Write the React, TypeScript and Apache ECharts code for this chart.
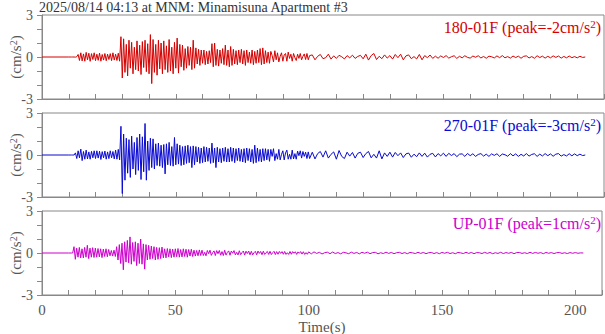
import React, { useEffect, useRef } from "react";
import * as echarts from "echarts";

const TITLE = "2025/08/14 04:13 at MNM: Minamisuna Apartment #3";
const CHANNELS = ["180-01F", "270-01F", "UP-01F"];
const PEAKS = ["-2", "-3", "1"];
const COLORS = ["#d40000", "#0a0ad0", "#cc00cc"];
const X_TICK_LABELS = [0, 50, 100, 150, 200];
const Y_TICK_LABELS = [-3, 0, 3];

// samples every 0.5 s from t=10 s to t=100 s
const EARLY_START = 10;
const EARLY_STEP = 0.5;
// samples every 1 s from t=101 s to t=203 s
const LATE_START = 101;
const LATE_STEP = 1;

const ns180Early = [
  0, 0, 0, 0, 0, -0.01, 0.02, 0.18, -0.25, 0.3,
  -0.28, 0.22, -0.3, 0.33, -0.2, 0.27, -0.31, 0.24, -0.18, 0.3,
  -0.26, 0.2, -0.24, 0.28, -0.3, 0.18, -0.22, 0.25, -0.27, 0.2,
  -0.18, 0.24, -0.26, 0.3, -0.22, 0.2, -0.25, 0.27, -0.3, 1.45,
  -1.5, 1.3, -1.1, 0.9, -1.35, 1.2, -0.8, 1.05, -1.2, 0.7,
  -0.9, 1.15, -1.0, 0.85, -1.25, 1.1, -0.75, 1.2, -1.05, 0.95,
  -1.2, 1.6, -1.9, 1.25, -1.1, 0.9, -1.3, 1.2, -0.85, 1.0,
  -1.2, 1.15, -0.9, 0.8, -1.1, 1.25, -1.0, 0.7, -1.2, 1.05,
  -0.8, 1.35, -1.15, 0.9, -0.7, 0.85, -0.95, 0.6, -0.8, 0.75,
  -0.6, 0.7, -0.9, 1.2, -0.8, 0.65, -0.5, 0.55, -0.6, 0.5,
  -0.45, 0.5, -0.55, 0.4, -0.5, 0.45, -0.4, 0.95, -0.7, 1.0,
  -0.6, 0.55, -0.65, 0.5, -0.45, 0.6, -0.55, 0.85, -0.6, 0.5,
  -0.7, 0.75, -0.6, 0.55, -0.5, 0.45, -0.55, 0.5, -0.4, 0.55,
  -0.5, 0.45, -0.6, 0.5, -0.4, 0.35, -0.45, 0.5, -0.55, 0.4,
  -0.45, 0.5, -0.4, 0.6, -0.55, 0.65, -0.5, 0.45, -0.4, 0.35,
  -0.45, 0.4, 0.1, -0.35, 0.45, -0.2, 0.3, -0.35, 0.05, 0.3,
  -0.3, 0.15, 0.25, -0.3, 0.35, -0.1, 0.2, -0.3, 0.25, -0.05,
  -0.25, 0.2, -0.1, 0.25, -0.2, 0.05, 0.22, -0.18, 0.25, -0.2,
  0.1,
];
const ns180Late = [
  0.15, -0.2, 0.05, 0.18, -0.12, -0.05, 0.2, -0.15, 0.08, -0.1,
  0.12, 0.02, -0.14, 0.1, -0.06, 0.13, -0.1, 0.04, 0.12, -0.13,
  0.2, -0.22, 0.1, 0.25, -0.18, 0.05, -0.12, 0.15, -0.08, 0.1,
  -0.15, 0.18, -0.05, 0.2, -0.2, 0.08, 0.15, -0.12, 0.03, -0.14,
  0.18, -0.2, 0.1, -0.05, 0.14, -0.1, 0.06, -0.09, 0.08, -0.04,
  0.1, -0.08, 0.02, 0.09, -0.1, 0.05, -0.06, 0.09, -0.03, -0.08,
  0.07, -0.02, 0.09, -0.07, 0.04, -0.09, 0.06, 0.02, -0.07, 0.08,
  -0.05, 0.1, -0.06, 0.03, -0.08, 0.07, -0.04, 0.06, -0.09, 0.05,
  0.08, -0.07, 0.03, -0.09, 0.09, -0.04, 0.06, -0.08, 0.05, -0.06,
  0.08, -0.03, 0.07, -0.08, 0.04, -0.06, 0.07, -0.05, 0.03, -0.06,
  0.05, -0.03, 0.0,
];

const ew270Early = [
  0, 0, 0, 0, 0, 0.15, -0.25, 0.3, -0.2, 0.42,
  -0.4, 0.25, -0.3, 0.35, -0.28, 0.22, -0.3, 0.26, -0.2, 0.3,
  -0.25, 0.3, -0.22, 0.27, -0.32, 0.24, -0.2, 0.28, -0.3, 0.22,
  -0.26, 0.3, -0.2, 0.25, -0.28, 0.35, -0.3, 0.4, -0.35, 2.05,
  -2.75, 1.5, -1.8, 1.2, -1.3, 1.1, -1.6, 1.35, -1.0, 0.9,
  -1.4, 1.25, -1.1, 1.5, -1.75, 1.3, -1.2, 2.25, -1.8, 1.0,
  -1.1, 1.2, -0.9, 1.15, -1.0, 0.8, -0.75, 0.85, -0.8, 0.7,
  -0.9, 0.75, -1.35, 0.8, -0.7, 0.9, -0.75, 0.6, -0.8, 1.25,
  -0.7, 0.8, -0.65, 0.7, -0.75, 0.6, -0.7, 0.65, -0.6, 0.7,
  -0.55, 0.6, -0.9, 0.65, -0.7, 0.6, -0.5, 0.55, -0.6, 0.5,
  -0.55, 0.6, -0.5, 0.55, -0.45, 0.5, -0.6, 0.85, -0.55, 0.5,
  -0.9, 0.55, -0.5, 0.45, -0.55, 0.5, -0.45, 0.55, -0.5, 0.45,
  -0.5, 0.55, -0.45, 0.5, -0.55, 0.45, -0.4, 0.5, -0.45, 0.4,
  -0.5, 0.45, -0.55, 0.5, -0.4, 0.45, -0.5, 0.4, -0.6, 0.7,
  -0.55, 0.5, -0.45, 0.4, -0.5, 0.45, -0.4, 0.45, -0.35, 0.4,
  -0.45, 0.4, -0.1, 0.45, -0.4, 0.1, -0.3, 0.4, -0.35, 0.05,
  0.3, -0.35, 0.15, 0.35, -0.3, 0.05, -0.3, 0.35, -0.28, 0.1,
  -0.3, 0.28, -0.05, 0.3, -0.22, 0.25, -0.1, 0.2, -0.25, 0.22,
  -0.25,
];
const ew270Late = [
  0.2, -0.28, 0.1, 0.25, -0.15, 0.3, -0.22, 0.05, 0.22, -0.3,
  0.32, -0.1, -0.25, 0.2, -0.08, 0.18, -0.22, 0.12, 0.2, -0.18,
  0.1, 0.25, -0.2, 0.05, -0.22, 0.3, -0.28, 0.15, -0.1, 0.2,
  -0.15, 0.18, -0.05, 0.15, -0.18, 0.08, 0.14, -0.16, 0.06, -0.12,
  0.15, -0.1, 0.13, -0.15, 0.05, 0.12, -0.14, 0.1, -0.06, 0.13,
  -0.1, 0.12, -0.04, 0.1, -0.12, 0.06, 0.08, -0.1, 0.11, -0.05,
  0.09, -0.1, 0.04, 0.1, -0.08, 0.06, -0.1, 0.08, -0.03, 0.09,
  -0.1, 0.07, 0.02, -0.09, 0.1, -0.06, 0.08, -0.1, 0.05, -0.07,
  0.1, -0.08, 0.04, 0.09, -0.1, 0.06, -0.07, 0.1, -0.05, 0.08,
  -0.09, 0.06, 0.1, -0.08, 0.03, -0.07, 0.09, -0.06, 0.08, -0.05,
  0.06, -0.04, 0.0,
];

const upEarly = [
  0, 0, 0, 0, 0.45, -0.45, 0.35, -0.3, 0.4, -0.35,
  0.3, -0.35, 0.4, -0.3, 0.55, -0.4, 0.35, -0.3, 0.38, -0.32,
  0.35, -0.3, 0.32, -0.28, 0.3, -0.33, 0.28, -0.25, 0.3, -0.27,
  0.25, -0.2, 0.18, -0.22, 0.2, -0.25, 0.45, -0.5, 0.6, -0.75,
  0.7, -1.2, 0.8, -0.65, 0.9, -0.7, 1.15, -0.8, 0.75, -0.6,
  0.8, -0.9, 0.7, -0.75, 1.0, -0.8, 0.65, -1.15, 0.6, -0.5,
  0.55, -0.45, 0.5, -0.4, 0.45, -0.5, 0.4, -0.45, 0.38, -0.4,
  0.42, -0.35, 0.3, -0.35, 0.32, -0.28, 0.3, -0.33, 0.28, -0.3,
  0.3, -0.27, 0.32, -0.3, 0.25, -0.28, 0.3, -0.25, 0.27, -0.3,
  0.25, -0.22, 0.27, -0.25, 0.2, -0.22, 0.18, -0.2, 0.22, -0.18,
  0.2, -0.18, 0.05, -0.2, 0.18, -0.05, 0.2, -0.17, 0.02, 0.15,
  -0.18, 0.17, -0.05, 0.18, -0.16, 0.1, -0.18, 0.2, -0.15, 0.04,
  0.15, -0.16, 0.14, -0.02, 0.17, -0.13, 0.05, -0.14, 0.16, -0.12,
  0.03, 0.14, -0.15, 0.13, -0.04, 0.14, -0.13, 0.12, -0.14, 0.02,
  0.12, -0.13, 0.14, -0.03, 0.11, -0.12, 0.13, -0.1, 0.02, 0.11,
  -0.1, 0.12, -0.11, 0.02, 0.12, -0.11, 0.1, -0.09, 0.11, -0.03,
  0.1, -0.09, 0.11, -0.1, 0.02, -0.1, 0.11, -0.09, 0.1, -0.02,
  0.09, -0.1, 0.08, -0.02, 0.1, -0.08, 0.09, -0.1, 0.03, -0.09,
  0.08,
];
const upLate = [
  -0.06, 0.08, -0.03, 0.05, -0.07, 0.02, 0.06, -0.05, 0.07, -0.04,
  0.03, -0.06, 0.05, 0.01, -0.05, 0.06, -0.03, 0.04, -0.06, 0.05,
  -0.02, 0.06, -0.05, 0.03, 0.05, -0.06, 0.02, -0.04, 0.06, -0.03,
  0.04, -0.05, 0.02, 0.05, -0.04, 0.03, -0.05, 0.04, 0.01, -0.04,
  0.05, -0.03, 0.04, -0.05, 0.02, 0.04, -0.04, 0.03, -0.05, 0.04,
  -0.02, 0.05, -0.04, 0.02, -0.05, 0.04, 0.01, -0.04, 0.05, -0.03,
  0.04, -0.05, 0.03, 0.02, -0.04, 0.05, -0.03, 0.04, -0.05, 0.02,
  -0.03, 0.05, -0.04, 0.03, -0.02, 0.04, -0.05, 0.03, 0.04, -0.03,
  0.02, -0.04, 0.05, -0.03, 0.04, -0.02, 0.03, -0.05, 0.04, -0.02,
  0.03, -0.04, 0.02, 0.04, -0.03, 0.02, -0.04, 0.03, -0.02, 0.03,
  -0.02, 0.01, 0.0,
];

const SERIES_EARLY = [ns180Early, ew270Early, upEarly];
const SERIES_LATE = [ns180Late, ew270Late, upLate];

const FONT = '"Liberation Serif", "DejaVu Serif", "Times New Roman", serif';

function buildData(early: number[], late: number[]) {
  const out: number[][] = [[0, 0]];
  early.forEach((v, i) => out.push([EARLY_START + i * EARLY_STEP, v]));
  late.forEach((v, i) => out.push([LATE_START + i * LATE_STEP, v]));
  return out;
}

export default function App() {
  const ref = useRef<HTMLDivElement>(null);
  useEffect(() => {
    if (!ref.current) return;
    const chart = echarts.init(ref.current, null, { renderer: "svg" });
    const tops = [15, 113, 211];
    const h = 84;
    const left = 42;
    const width = 562;
    const grids = tops.map((t) => ({
      left,
      top: t,
      width,
      height: h,
      show: true,
      borderColor: "#888",
      borderWidth: 1,
      backgroundColor: "transparent",
    }));
    const xAxes = tops.map((_, i) => ({
      type: "value",
      gridIndex: i,
      min: 0,
      max: 210,
      interval: 10,
      axisLine: { show: true, onZero: false, lineStyle: { color: "#888", width: 1 } },
      axisTick: { show: true, inside: true, length: 5, lineStyle: { color: "#888" } },
      splitLine: { show: false },
      axisLabel: {
        show: i === 2,
        fontFamily: FONT,
        fontSize: 15,
        color: "#555",
        margin: 7,
        formatter: (v: number) => (X_TICK_LABELS.includes(v) ? String(v) : ""),
      },
    }));
    const yAxes = tops.map((_, i) => ({
      type: "value",
      gridIndex: i,
      min: -3,
      max: 3,
      interval: 1,
      axisLine: { show: true, onZero: false, lineStyle: { color: "#888", width: 1 } },
      axisTick: { show: true, inside: false, length: 5, lineStyle: { color: "#888" } },
      splitLine: { show: false },
      axisLabel: {
        fontFamily: FONT,
        fontSize: 14,
        color: "#555",
        margin: 9,
        formatter: (v: number) => (Y_TICK_LABELS.includes(v) ? String(v) : ""),
      },
    }));
    const series = tops.map((_, i) => ({
      type: "line",
      xAxisIndex: i,
      yAxisIndex: i,
      data: buildData(SERIES_EARLY[i], SERIES_LATE[i]),
      showSymbol: false,
      symbol: "none",
      lineStyle: { width: 1, color: COLORS[i] },
      itemStyle: { color: COLORS[i] },
    }));
    const graphics: any[] = [
      {
        type: "text",
        left: 39,
        top: 0,
        style: { text: TITLE, font: `14px ${FONT}`, fill: "#333" },
      },
      {
        type: "text",
        x: 322,
        y: 327,
        style: {
          text: "Time(s)",
          font: `15px ${FONT}`,
          fill: "#555",
          align: "center",
          verticalAlign: "middle",
        },
      },
    ];
    tops.forEach((t, i) => {
      graphics.push({
        type: "text",
        x: 601,
        y: t + 3,
        style: {
          text: `{a|${CHANNELS[i]} (peak=${PEAKS[i]}cm/s}{s|2}{a|)}`,
          align: "right",
          verticalAlign: "top",
          rich: {
            a: { font: `16px ${FONT}`, fill: COLORS[i], verticalAlign: "bottom" },
            s: { font: `11px ${FONT}`, fill: COLORS[i], verticalAlign: "top", padding: [0, 0, 6, 0] },
          },
        },
      });
      graphics.push({
        type: "text",
        x: 16,
        y: t + h / 2,
        rotation: Math.PI / 2,
        style: {
          text: "{a|(cm/s}{s|2}{a|)}",
          align: "center",
          verticalAlign: "middle",
          rich: {
            a: { font: `15px ${FONT}`, fill: "#555" },
            s: { font: `10px ${FONT}`, fill: "#555", padding: [0, 0, 6, 0] },
          },
        },
      });
    });
    chart.setOption({
      animation: false,
      backgroundColor: "#fff",
      grid: grids,
      xAxis: xAxes,
      yAxis: yAxes,
      series,
      graphic: graphics,
    } as any);
    return () => chart.dispose();
  }, []);
  return (
    <div
      ref={ref}
      style={{ position: "fixed", left: 0, top: 0, width: 605, height: 334 }}
    />
  );
}
